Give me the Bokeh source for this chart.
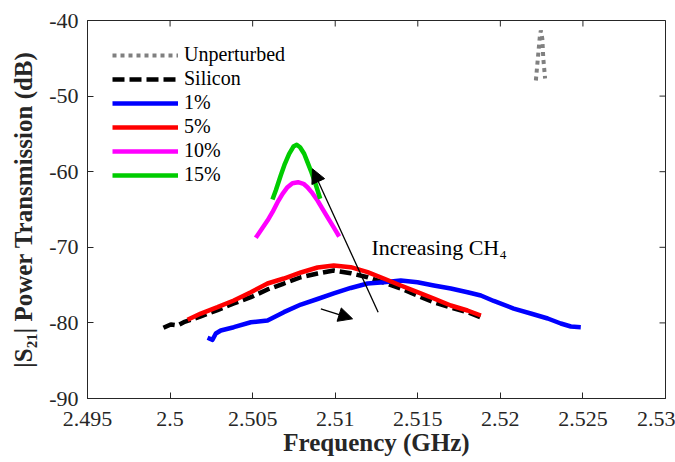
import math
from bokeh.plotting import figure
from bokeh.models import (Range1d, FixedTicker, Legend, LegendItem,
                          Label, Arrow, NormalHead)
from bokeh.embed import file_html
from bokeh.resources import INLINE

# ---------------- data ----------------
unperturbed_x = [2.52215, 2.52227, 2.52239, 2.52245, 2.52254, 2.52260, 2.52271]
unperturbed_y = [-47.94, -45.03, -42.12, -41.32, -42.38, -45.03, -47.67]

silicon_x = [2.49960, 2.50004, 2.50045, 2.50083, 2.50186, 2.50287, 2.50386, 2.50489,
             2.50590, 2.50689, 2.50792, 2.50893, 2.50991, 2.51094, 2.51196, 2.51294,
             2.51397, 2.51498, 2.51597, 2.51700, 2.51801, 2.51900]
silicon_y = [-80.65, -80.21, -80.34, -79.91, -79.15, -78.30, -77.43, -76.60,
             -75.58, -74.79, -73.96, -73.47, -73.07, -73.43, -73.96, -74.66,
             -75.45, -76.38, -77.26, -77.96, -78.58, -79.42]

p1_x = [2.50227, 2.50257, 2.50277, 2.50307, 2.50386, 2.50489, 2.50590, 2.50689,
        2.50792, 2.50893, 2.50991, 2.51094, 2.51196, 2.51294, 2.51397, 2.51498,
        2.51597, 2.51700, 2.51801, 2.51882, 2.51960, 2.52081, 2.52184, 2.52287,
        2.52366, 2.52427, 2.52487]
p1_y = [-81.97, -82.24, -81.40, -81.00, -80.57, -79.91, -79.68, -78.58,
        -77.57, -76.84, -76.11, -75.38, -74.79, -74.62, -74.39, -74.62,
        -75.05, -75.45, -75.94, -76.38, -77.10, -78.10, -78.76, -79.42,
        -80.08, -80.48, -80.57]

p5_x = [2.50106, 2.50186, 2.50287, 2.50386, 2.50489, 2.50590, 2.50689, 2.50792,
        2.50893, 2.50991, 2.51094, 2.51196, 2.51294, 2.51397, 2.51498, 2.51597,
        2.51700, 2.51801, 2.51882]
p5_y = [-79.59, -78.76, -77.92, -77.04, -75.94, -74.79, -74.13, -73.33,
        -72.67, -72.41, -72.63, -73.29, -74.13, -75.05, -75.94, -76.77,
        -77.70, -78.36, -79.02]

p10_x = [2.50519, 2.50549, 2.50590, 2.50620, 2.50651, 2.50681, 2.50711, 2.50741, 2.50775,
         2.50808, 2.50832, 2.50862, 2.50893, 2.50923, 2.50953, 2.50990, 2.51024]
p10_y = [-68.74, -67.78, -66.46, -65.36, -64.03, -62.92, -62.05, -61.52, -61.39,
         -61.60, -62.05, -62.84, -63.81, -64.91, -66.02, -67.34, -68.57]

p15_x = [2.50620, 2.50640, 2.50670, 2.50695, 2.50721, 2.50747, 2.50767, 2.50787,
         2.50812, 2.50832, 2.50856, 2.50882, 2.50909]
p15_y = [-63.68, -62.49, -60.50, -58.96, -57.63, -56.67, -56.44, -56.76,
         -57.63, -58.74, -60.07, -61.69, -63.58]

x_ticks = [2.495, 2.5, 2.505, 2.51, 2.515, 2.52, 2.525, 2.53]
x_tick_labels = ["2.495", "2.5", "2.505", "2.51", "2.515", "2.52", "2.525", "2.53"]
y_ticks = [-90, -80, -70, -60, -50, -40]
y_tick_labels = ["-90", "-80", "-70", "-60", "-50", "-40"]
x_label = "Frequency (GHz)"
y_label = "|S\u2082\u2081| Power Transmission (dB)"

legend_labels = ["Unperturbed", "Silicon", "1%", "5%", "10%", "15%"]

# annotation arrows: (x_start, y_start, x_end, y_end)
big_arrow = (2.5126, -78.58, 2.50862, -59.62)
small_arrow = (2.50913, -78.14, 2.51105, -79.46)
annotation_text = "Increasing CH\u2084"
annotation_pos = (2.5122, -70.0)

X_MIN, X_MAX = 2.495, 2.53
Y_MIN, Y_MAX = -90, -40

# ---------------- figure ----------------
AX = "#262626"
SERIF = "Liberation Serif"

p = figure(width=675, height=462, output_backend="svg", toolbar_location=None,
           x_range=Range1d(X_MIN, X_MAX), y_range=Range1d(Y_MIN, Y_MAX),
           min_border_left=87, min_border_right=10, min_border_top=20,
           min_border_bottom=64)
p.xgrid.visible = False
p.ygrid.visible = False
p.outline_line_color = AX
p.outline_line_width = 1
p.outline_line_alpha = 1
p.background_fill_color = "white"

for ax, ticks, labels, title in ((p.xaxis[0], x_ticks, x_tick_labels, x_label),
                                 (p.yaxis[0], y_ticks, y_tick_labels, y_label)):
    ax.ticker = FixedTicker(ticks=ticks)
    ax.major_label_overrides = {t: l for t, l in zip(ticks, labels)}
    ax.major_tick_in = 6
    ax.major_tick_out = 0
    ax.minor_tick_in = 0
    ax.minor_tick_out = 0
    ax.axis_line_color = AX
    ax.major_tick_line_color = AX
    ax.major_label_text_color = AX
    ax.major_label_text_font = SERIF
    ax.major_label_text_font_size = "22px"
    ax.axis_label = title
    ax.axis_label_text_font = SERIF
    ax.axis_label_text_font_size = "25px"
    ax.axis_label_text_font_style = "bold"
    ax.axis_label_text_color = AX
p.xaxis[0].major_label_standoff = 13
p.xaxis[0].axis_label_standoff = 0
p.yaxis[0].major_label_standoff = 9
p.yaxis[0].axis_label_standoff = 9

# mirrored inward ticks on the top and right edges of the box
p.scatter(x_ticks, [Y_MAX] * len(x_ticks), marker="dash", angle=math.pi / 2,
          size=12, line_color=AX, line_width=1)
p.scatter([X_MAX] * len(y_ticks), y_ticks, marker="dash", angle=0,
          size=12, line_color=AX, line_width=1)

LW = 4.5
r_un = p.line(unperturbed_x, unperturbed_y, line_color="#808080", line_width=4, line_dash="4 4")
r_si = p.line(silicon_x, silicon_y, line_color="black", line_width=LW, line_dash="12 5")
r_1 = p.line(p1_x, p1_y, line_color="#0000FF", line_width=LW, line_join="round")
r_5 = p.line(p5_x, p5_y, line_color="#FF0000", line_width=LW, line_join="round")
r_10 = p.line(p10_x, p10_y, line_color="#FF00FF", line_width=LW, line_join="round")
r_15 = p.line(p15_x, p15_y, line_color="#00CC00", line_width=LW, line_join="round")

legend = Legend(items=[LegendItem(label=l, renderers=[r]) for l, r in
                       zip(legend_labels, [r_un, r_si, r_1, r_5, r_10, r_15])],
                location=(25, 212), orientation="vertical",
                border_line_alpha=0, background_fill_alpha=0,
                label_text_font=SERIF, label_text_font_size="20px",
                label_text_color="black",
                glyph_width=66, glyph_height=22, label_height=22,
                label_standoff=6, spacing=1, padding=0, margin=0)
p.add_layout(legend)

for a in (big_arrow, small_arrow):
    p.add_layout(Arrow(end=NormalHead(size=14, fill_color="black", line_color="black"),
                       x_start=a[0], y_start=a[1], x_end=a[2], y_end=a[3],
                       line_color="black", line_width=1.3))

p.add_layout(Label(x=annotation_pos[0], y=annotation_pos[1], text=annotation_text,
                   text_font=SERIF, text_font_size="22px", text_color="black",
                   text_align="left", text_baseline="alphabetic"))

open("out.html", "w").write(file_html(p, INLINE))
